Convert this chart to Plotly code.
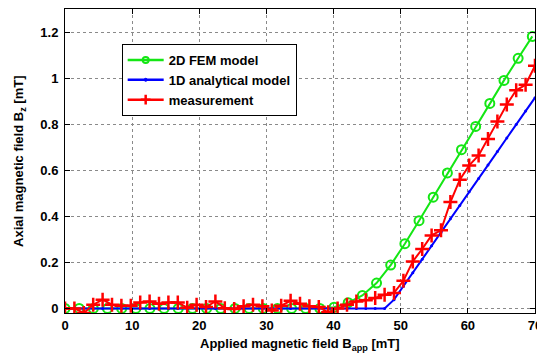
import plotly.graph_objects as go

# Applied field grids [mT]
fem_x = [0, 2.11, 4.22, 6.33, 8.44, 10.55, 12.65, 14.76, 16.87, 18.98, 21.09, 23.20,
         25.31, 27.42, 29.53, 31.64, 33.75, 35.85, 37.96, 40.07, 42.18, 44.29, 46.40,
         48.51, 50.62, 52.73, 54.84, 56.95, 59.05, 61.16, 63.27, 65.38, 67.49, 69.60]
fem_y = [0, 0, 0, 0, 0, 0, 0, 0, 0, 0, 0, 0,
         0, 0, 0, 0, 0, 0, 0, 0.005, 0.025, 0.056, 0.11,
         0.188, 0.281, 0.381, 0.483, 0.588, 0.689, 0.79, 0.89, 0.99, 1.086, 1.181]

meas_x = [0, 1.4, 2.8, 4.2, 5.6, 7.0, 8.4, 9.8, 11.2, 12.6, 14.0, 15.4, 16.8, 18.2,
          19.6, 21.0, 22.4, 23.8, 25.2, 26.6, 28.0, 29.4, 30.8, 32.2, 33.6, 35.0,
          36.4, 37.8, 39.2, 40.6, 42.0, 43.4, 44.8, 46.2, 47.6, 49.0, 50.4, 51.8,
          53.2, 54.6, 56.0, 57.4, 58.8, 60.2, 61.6, 63.0, 64.4, 65.8, 67.2, 68.6, 70.0]
meas_y = [0.0, 0.0, -0.02, 0.016, 0.038, 0.016, 0.012, 0.012, 0.026, 0.03, 0.02, 0.026,
          0.026, 0.003, 0.016, 0.006, 0.03, 0.001, -0.003, 0.009, 0.016, 0.009, -0.009,
          0.012, 0.033, 0.02, 0.009, 0.006, -0.017, 0.0, 0.016, 0.03, 0.035, 0.045,
          0.059, 0.067, 0.12, 0.204, 0.258, 0.317, 0.339, 0.462, 0.559, 0.621, 0.664,
          0.735, 0.811, 0.885, 0.947, 0.971, 1.054]

ana_x = meas_x
ana_y = [0] * 35 + [0.038, 0.096, 0.155, 0.213, 0.272, 0.330, 0.389, 0.447, 0.506,
                    0.564, 0.623, 0.681, 0.740, 0.798, 0.857, 0.915]

x_ticks = [0, 10, 20, 30, 40, 50, 60, 70]
y_ticks = [0, 0.2, 0.4, 0.6, 0.8, 1, 1.2]

FONT = "Liberation Sans, Arial, Helvetica, sans-serif"
GREEN, BLUE, RED = "#14e614", "#0000ff", "#ff0000"

series = [
    dict(name="2D FEM model", x=fem_x, y=fem_y, color=GREEN,
         symbol="circle-open", size=9, mlw=2, leg_size=6),
    dict(name="1D analytical model", x=ana_x, y=ana_y, color=BLUE,
         symbol="circle", size=3, mlw=0, leg_size=3),
    dict(name="measurement", x=meas_x, y=meas_y, color=RED,
         symbol="cross-thin-open", size=10, mlw=2.5, leg_size=7),
]

fig = go.Figure()
for s in series:
    fig.add_trace(go.Scatter(
        x=s["x"], y=s["y"], name=s["name"], mode="lines+markers", showlegend=False,
        line=dict(color=s["color"], width=2),
        marker=dict(symbol=s["symbol"], size=s["size"], color=s["color"],
                    line=dict(width=s["mlw"], color=s["color"])),
    ))
# legend entries with smaller marker glyphs
for s in series:
    fig.add_trace(go.Scatter(
        x=[None], y=[None], name=s["name"], mode="lines+markers",
        line=dict(color=s["color"], width=2.5),
        marker=dict(symbol=s["symbol"], size=s["leg_size"], color=s["color"],
                    line=dict(width=max(s["mlw"], 1), color=s["color"])),
    ))

axis_common = dict(
    showline=True, linecolor="black", linewidth=1, mirror="ticks",
    ticks="inside", ticklen=5, tickcolor="black", tickwidth=1,
    showgrid=True, gridcolor="#8a8a8a", gridwidth=1, griddash="dot",
    zeroline=False, ticklabeloverflow="allow", automargin=False,
    tickfont=dict(family=FONT, size=13, color="black", weight="bold"),
)

fig.update_xaxes(range=[0, 70], tickvals=x_ticks, **axis_common)
fig.update_yaxes(range=[-0.02, 1.3], tickvals=y_ticks, ticklabelstandoff=3, **axis_common)

fig.update_layout(
    width=537, height=353,
    margin=dict(l=65, r=2, t=9, b=40, autoexpand=False),
    paper_bgcolor="white", plot_bgcolor="white",
    font=dict(family=FONT, color="black"),
    showlegend=True,
    legend=dict(
        x=0.1206, y=0.885, xanchor="left", yanchor="top",
        bgcolor="white", bordercolor="black", borderwidth=1,
        font=dict(family=FONT, size=13, color="black", weight="bold"),
        itemwidth=36, tracegroupgap=0,
    ),
    annotations=[
        dict(text="Applied magnetic field B<sub>app</sub> [mT]",
             xref="paper", yref="paper", x=0.5, y=-0.068,
             xanchor="center", yanchor="top", showarrow=False,
             font=dict(family=FONT, size=13, color="black", weight="bold")),
        dict(text="Axial magnetic field B<sub>z</sub> [mT]",
             xref="paper", yref="paper", x=-0.098, y=0.5,
             xanchor="center", yanchor="middle", textangle=-90, showarrow=False,
             font=dict(family=FONT, size=13, color="black", weight="bold")),
    ],
)

fig.write_html("out.html")
